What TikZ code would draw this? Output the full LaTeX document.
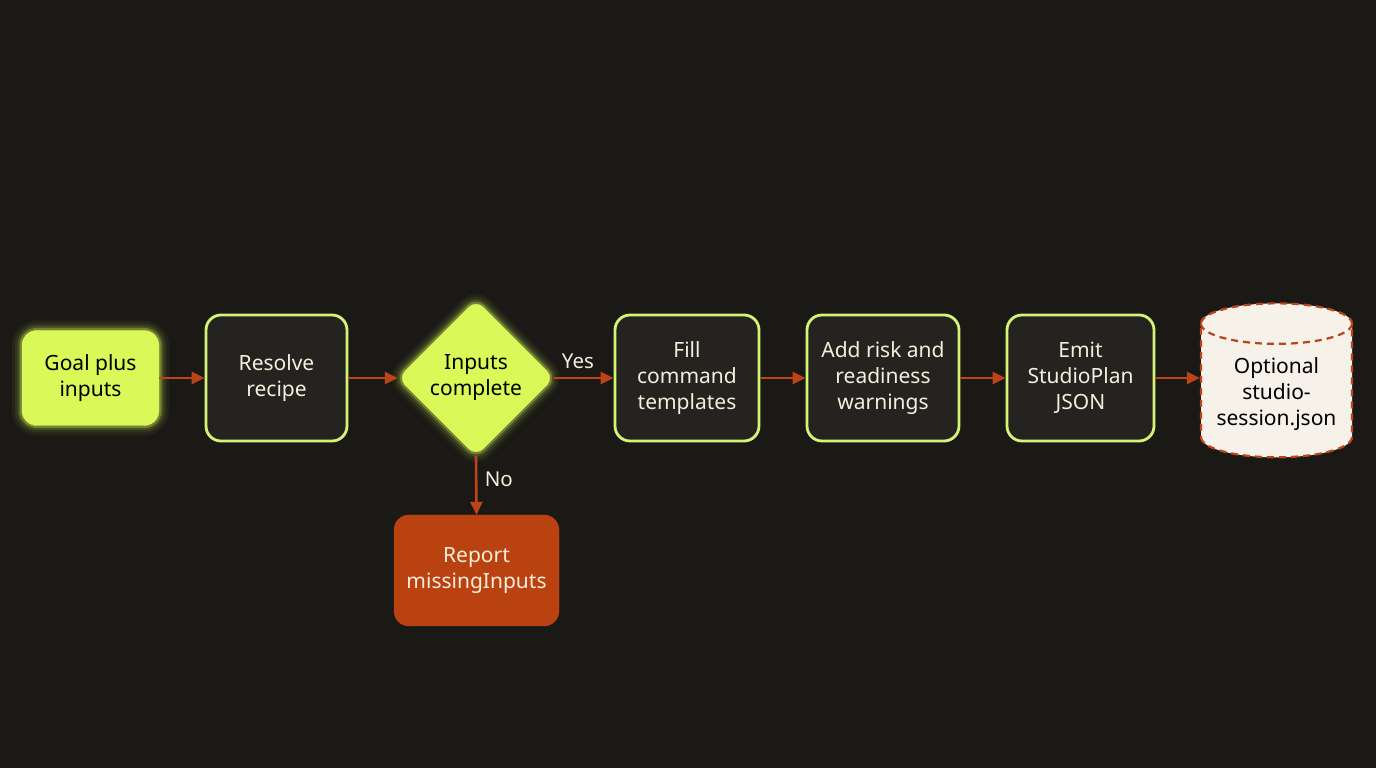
\documentclass[tikz,border=0pt]{standalone}
\usepackage{fontspec}
\setmainfont{Noto Sans}
\usetikzlibrary{arrows.meta, positioning, shapes.geometric}
\definecolor{PageBg}{RGB}{27,25,21}
\definecolor{LimeFill}{RGB}{218,248,88}
\definecolor{LimeBorder}{RGB}{212,244,120}
\definecolor{DarkFill}{RGB}{37,35,31}
\definecolor{CreamText}{RGB}{246,238,220}
\definecolor{RustFill}{RGB}{186,66,16}
\definecolor{RustLine}{RGB}{188,68,24}
\definecolor{PaperFill}{RGB}{246,241,233}
\tikzset{
  every node/.style={font=\fontsize{21}{26}\selectfont},
  arr/.style={-{Triangle[length=13pt,width=12pt]}, line width=2.6pt, RustLine},
  lbl/.style={text=CreamText, font=\fontsize{20.5}{24}\selectfont},
  glow/.style={preaction={draw=LimeFill, draw opacity=0.05, line width=20pt},
               preaction={draw=LimeFill, draw opacity=0.08, line width=14pt},
               preaction={draw=LimeFill, draw opacity=0.14, line width=9pt},
               preaction={draw=LimeFill, draw opacity=0.30, line width=5pt}},
  startbox/.style={glow, draw=LimeFill, fill=LimeFill, rounded corners=15pt,
                   minimum width=137pt, minimum height=95pt, align=center, text=black},
  stepbox/.style={draw=LimeBorder, line width=2.8pt, fill=DarkFill, rounded corners=15pt,
                  minimum height=126pt, align=center, text=CreamText},
  decide/.style={glow, diamond, aspect=1, draw=LimeFill, fill=LimeFill, rounded corners=10pt,
                 minimum width=156pt, minimum height=156pt, inner sep=0pt,
                 align=center, text=black},
  failbox/.style={draw=RustFill, fill=RustFill, rounded corners=15pt,
                  minimum width=165pt, minimum height=111pt, align=center, text=CreamText},
  store/.style={cylinder, shape border rotate=90, aspect=0.32, draw=RustLine, dashed,
                dash pattern=on 7pt off 5pt, line width=2.2pt, fill=PaperFill,
                minimum width=151pt, minimum height=154pt, align=center, text=black}
}

\begin{document}
\begin{tikzpicture}[x=1pt,y=1pt]

% Page
\fill[PageBg] (0,0) rectangle (1376,768);
\useasboundingbox (0,0) rectangle (1376,768);

% Main row
\node[startbox] (goal) at (90.5,390) {Goal plus\\inputs};
\node[stepbox, minimum width=141pt] (resolve) at (276.5,390) {Resolve\\recipe};
\node[decide] (check) at (476,390) {Inputs\\complete};
\node[stepbox, minimum width=144pt] (fill) at (687,390) {Fill\\command\\templates};
\node[stepbox, minimum width=152pt] (risk) at (883,390) {Add risk and\\readiness\\warnings};
\node[stepbox, minimum width=147pt] (emit) at (1080.5,390) {Emit\\StudioPlan\\JSON};
\node[store] (session) at (1276.5,374) {Optional\\studio-\\session.json};

% Failure branch
\node[failbox] (report) at (476.5,197.5) {Report\\missingInputs};

% Connectors
\draw[arr] (goal.east) -- (resolve.west);
\draw[arr] (resolve.east) -- (check.west);
\draw[arr] (check.east) -- node[lbl, above=5pt, pos=0.4] {Yes} (fill.west);
\draw[arr] (fill.east) -- (risk.west);
\draw[arr] (risk.east) -- (emit.west);
\draw[arr] (emit.east) -- (emit.east -| session.west);
\draw[arr] (check.south) -- node[lbl, right=4pt, pos=0.4] {No} (report.north);

\end{tikzpicture}
\end{document}
